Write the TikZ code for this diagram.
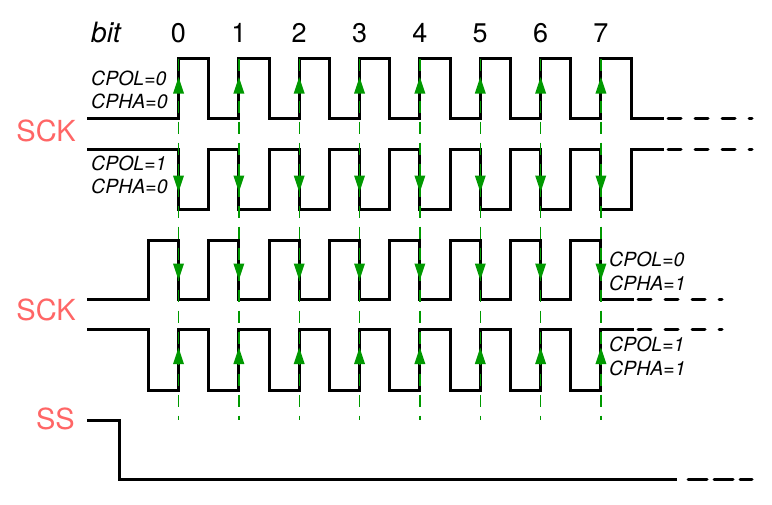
\documentclass[tikz,border=0pt]{standalone}
\usepackage{fontspec}
\setmainfont{TeX Gyre Heros}
\definecolor{sckred}{RGB}{255,102,102}
\definecolor{edgegreen}{RGB}{0,153,0}
\begin{document}
\begin{tikzpicture}[x=1pt,y=-1pt,
  wave/.style={line width=3pt,line join=miter,line cap=rect,black},
  tail/.style={line width=3pt,line cap=round,dash pattern=on 13pt off 14pt},
  sstail/.style={line width=3pt,line cap=round,dash pattern=on 19pt off 7pt},
  sampleline/.style={line width=1.4pt,edgegreen,dash pattern=on 12pt off 9pt},
  arrowfill/.style={fill=edgegreen,draw=none},
  siglabel/.style={inner sep=0pt,text=sckred,font=\fontsize{29}{29}\selectfont},
  modelabel/.style={inner sep=0pt,anchor=base west,font=\itshape\fontsize{19.5}{19.5}\selectfont},
  bitlabel/.style={inner sep=0pt,anchor=base,font=\fontsize{27}{27}\selectfont}]
\useasboundingbox (0,0) rectangle (772,504);
\def\bx#1{178.5+60.35*#1}
% waveforms
\draw[wave] (88,118) \foreach \i in {0,...,7} { -- ({\bx{\i}},118) -- ++(0,-59.5) -- ++(30.2,0) -- ++(0,59.5)} -- (662,118);
\draw[tail] (668,118) -- (752,118);
\draw[wave] (88,149) \foreach \i in {0,...,7} { -- ({\bx{\i}},149) -- ++(0,60.3) -- ++(30.2,0) -- ++(0,-60.3)} -- (662,149);
\draw[tail] (668,149) -- (752,149);
\draw[wave] (88,299.3) \foreach \i in {0,...,7} { -- ({\bx{\i}-30.2},299.3) -- ++(0,-59.3) -- ++(30.2,0) -- ++(0,59.3)} -- (632,299.3);
\draw[tail] (638,299.3) -- (722,299.3);
\draw[wave] (88,329) \foreach \i in {0,...,7} { -- ({\bx{\i}-30.2},329) -- ++(0,61) -- ++(30.2,0) -- ++(0,-61)} -- (632,329);
\draw[tail] (638,329) -- (722,329);
\draw[wave] (88,420) -- (119,420) -- (119,479.3) -- (675,479.3);
\draw[sstail] (688,479.3) -- (752,479.3);
% sampling lines and edge arrows
\foreach \i in {0,...,7} {
  \coordinate (t\i) at ({\bx{\i}},58.7);
  \coordinate (b\i) at ({\bx{\i}},420);
  \draw[sampleline] (t\i) -- (b\i);
  \fill[arrowfill] ({\bx{\i}},77) -- ++(5.5,16.5) -- ++(-11,0) -- cycle;
  \fill[arrowfill] ({\bx{\i}},192) -- ++(5.5,-16.5) -- ++(-11,0) -- cycle;
  \fill[arrowfill] ({\bx{\i}},280) -- ++(5.5,-16.5) -- ++(-11,0) -- cycle;
  \fill[arrowfill] ({\bx{\i}},347.5) -- ++(5.5,16.5) -- ++(-11,0) -- cycle;
  \node[bitlabel] (n\i) at ({\bx{\i}},42) {\i};
}
% labels
\node[inner sep=0pt,anchor=base west,font=\itshape\fontsize{28}{28}\selectfont] (bit) at (91,42) {bit};
\node[siglabel,anchor=base east] (sck1) at (76,141.7) {SCK};
\node[siglabel,anchor=base east] (sck2) at (76,320) {SCK};
\node[siglabel,anchor=base east] (ss) at (75,429.3) {SS};
\node[modelabel] (m1a) at (91,85) {CPOL=0};
\node[modelabel] (m1b) at (91,108) {CPHA=0};
\node[modelabel] (m2a) at (91,170) {CPOL=1};
\node[modelabel] (m2b) at (91,193) {CPHA=0};
\node[modelabel] (m3a) at (609,266.7) {CPOL=0};
\node[modelabel] (m3b) at (609,290) {CPHA=1};
\node[modelabel] (m4a) at (609,351.7) {CPOL=1};
\node[modelabel] (m4b) at (609,375) {CPHA=1};
\end{tikzpicture}
\end{document}
